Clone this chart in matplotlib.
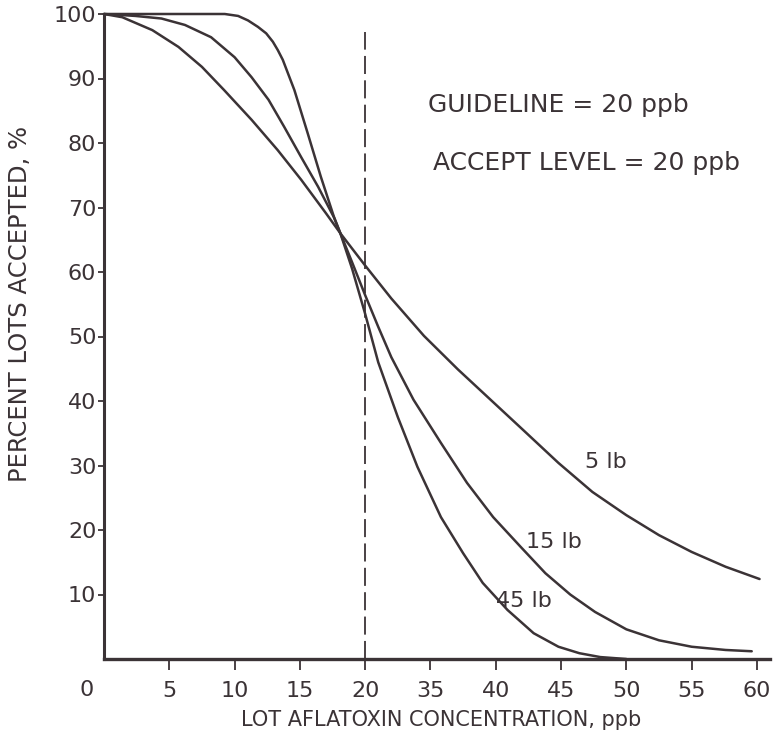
import matplotlib
matplotlib.use('Agg')
import matplotlib.pyplot as plt
from matplotlib.transforms import blended_transform_factory

# x is the position along the drawn axis (5 units per printed tick)
lb5_x = [0, 1.4, 3.7, 5.7, 7.5, 9.2, 11.3, 13.3, 15.1, 17.0, 18.1, 20.0, 22.0,
         24.5, 27.1, 29.6, 32.1, 34.8, 37.4, 40.0, 42.5, 45.0, 47.6, 50.2]
lb5_y = [100, 99.5, 97.5, 94.9, 91.8, 88.2, 83.6, 78.9, 74.3, 69.1, 66.0, 61.0, 55.9,
         50.1, 44.9, 40.2, 35.5, 30.4, 25.9, 22.3, 19.2, 16.6, 14.3, 12.4]

lb15_x = [0, 2.4, 4.4, 6.2, 8.2, 10.0, 11.3, 12.6, 13.8, 15.1, 16.4, 17.6, 18.1,
          19.0, 20.0, 21.0, 22.0, 23.7, 25.8, 27.8, 29.8, 31.9, 33.8, 35.7, 37.6,
          40.0, 42.5, 45.0, 47.6, 49.6]
lb15_y = [100, 99.7, 99.3, 98.3, 96.4, 93.3, 90.2, 86.7, 82.5, 77.8, 73.2, 68.5, 66.0,
          61.5, 56.4, 51.5, 46.8, 40.2, 33.5, 27.3, 22.0, 17.4, 13.3, 10.0, 7.3,
          4.6, 2.9, 1.9, 1.4, 1.2]

lb45_x = [0, 9.25, 10.27, 11.03, 11.79, 12.42, 12.93, 13.31, 13.69, 14.58, 15.6, 16.6,
          17.6, 18.1, 19.0, 20.0, 21.0, 22.5, 24.0, 25.8, 27.5, 29.0, 30.9, 32.9,
          34.8, 36.4, 38.0, 40.0]
lb45_y = [100, 100, 99.7, 99.0, 98.0, 97.0, 95.7, 94.4, 92.9, 88.2, 81.5, 74.8,
          68.6, 66.0, 60.5, 53.5, 46.0, 37.5, 29.8, 22.0, 16.4, 11.8, 7.6, 4.0,
          1.9, 0.9, 0.3, 0.0]

xtick_pos = [5, 10, 15, 20, 25, 30, 35, 40, 45, 50]
xtick_labels = ['5', '10', '15', '20', '35', '40', '45', '50', '55', '60']
ytick_pos = [10, 20, 30, 40, 50, 60, 70, 80, 90, 100]

guideline = 20

ink = '#3b3336'
plt.rcParams['font.family'] = ['DejaVu Sans']

fig = plt.figure(figsize=(7.74, 7.49), dpi=100)
ax = fig.add_axes([104/774, 1 - 659/749, (770 - 104)/774, (659 - 14)/749])

for xs, ys in [(lb5_x, lb5_y), (lb15_x, lb15_y), (lb45_x, lb45_y)]:
    ax.plot(xs, ys, color=ink, lw=1.8, solid_capstyle='round',
            solid_joinstyle='round', clip_on=False)

ax.plot([guideline, guideline], [0, 97.2], color=ink, lw=1.3, dashes=(10, 3.5))

ax.set_xlim(0, 51)
ax.set_ylim(0, 100)
ax.spines['top'].set_visible(False)
ax.spines['right'].set_visible(False)
ax.spines['left'].set_linewidth(2.2)
ax.spines['bottom'].set_linewidth(2.4)
ax.spines['left'].set_color(ink)
ax.spines['bottom'].set_color(ink)

ax.set_xticks(xtick_pos)
ax.set_xticklabels(xtick_labels)
ax.set_yticks(ytick_pos)
ax.tick_params(axis='x', length=8, width=1.3, pad=8, labelsize=16, colors=ink)
ax.tick_params(axis='y', length=4.5, width=1.3, pad=1, labelsize=16, colors=ink)

# lone "0" at the corner, left of the origin
tr = blended_transform_factory(ax.transData, ax.transAxes)
ax.text(-1.3, -0.048, '0', transform=tr, ha='center', va='center',
        fontsize=16, color=ink)

ax.set_xlabel('LOT AFLATOXIN CONCENTRATION, ppb', fontsize=15, color=ink)
ax.xaxis.set_label_coords(0.506, -0.095)
ax.set_ylabel('PERCENT LOTS ACCEPTED, %', fontsize=17.5, color=ink)
ax.yaxis.set_label_coords(-0.126, 0.55)
ax.yaxis.label.set_va('center')
ax.xaxis.label.set_va('center')

ax.text(24.8, 85.9, 'GUIDELINE = 20 ppb', fontsize=18, color=ink, ha='left', va='center')
ax.text(25.2, 76.9, 'ACCEPT LEVEL = 20 ppb', fontsize=18, color=ink, ha='left', va='center')
ax.text(36.8, 30.5, '5 lb', fontsize=16, color=ink, ha='left', va='center')
ax.text(32.3, 18.1, '15 lb', fontsize=16, color=ink, ha='left', va='center')
ax.text(30.0, 9.0, '45 lb', fontsize=16, color=ink, ha='left', va='center')

fig.savefig('out.png', dpi=100)
